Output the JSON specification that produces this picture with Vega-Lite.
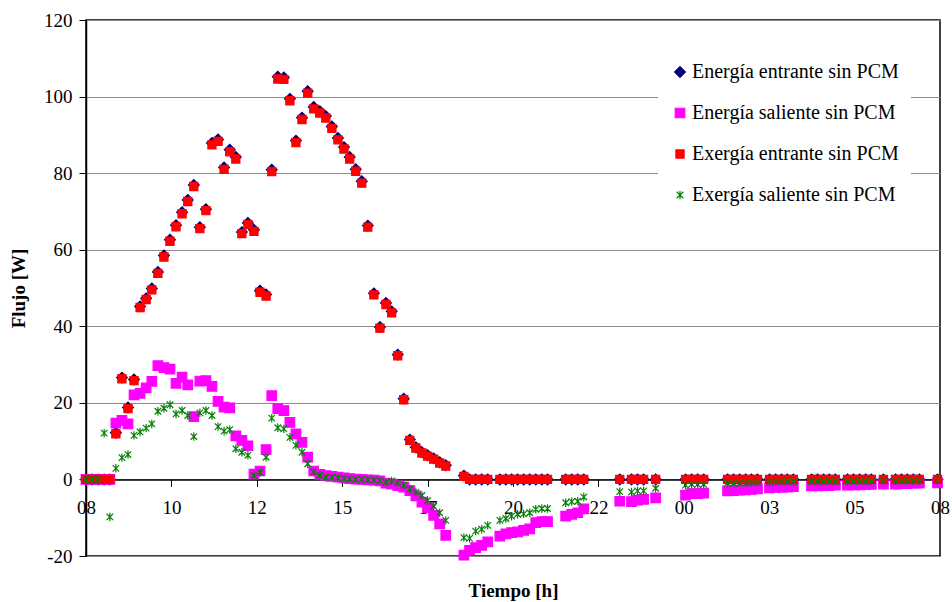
{
  "$schema": "https://vega.github.io/schema/vega-lite/v6.json",
  "width": 854,
  "height": 536,
  "autosize": "none",
  "padding": {"left": 86, "top": 20, "right": 12, "bottom": 46},
  "background": "white",
  "config": {
    "view": {"stroke": "black", "strokeWidth": 1.5},
    "font": "Liberation Serif",
    "axis": {
      "labelFont": "Liberation Serif",
      "titleFont": "Liberation Serif",
      "labelColor": "black",
      "titleColor": "black",
      "labelFontSize": 19,
      "titleFontSize": 19,
      "titleFontWeight": "bold",
      "tickColor": "black",
      "domainColor": "black"
    },
    "legend": {
      "orient": "none",
      "legendX": 572,
      "legendY": 30,
      "fillColor": "white",
      "padding": 12,
      "rowPadding": 21,
      "labelFont": "Liberation Serif",
      "labelFontSize": 20,
      "labelColor": "black",
      "labelLimit": 400,
      "labelOffset": 2,
      "symbolStrokeWidth": 1.2
    }
  },
  "data": {
    "values": [
      {"t": 8.00, "E_in": 0, "E_out": 0, "X_in": 0, "X_out": 0},
      {"t": 8.17, "E_in": 0, "E_out": 0, "X_in": 0, "X_out": 0},
      {"t": 8.34, "E_in": 0, "E_out": 0, "X_in": 0, "X_out": 0},
      {"t": 8.51, "E_in": 0, "E_out": 0, "X_in": 0, "X_out": 12.1},
      {"t": 8.67, "E_in": 0, "E_out": 0, "X_in": 0, "X_out": -9.8},
      {"t": 8.84, "E_in": 12.2, "E_out": 14.7, "X_in": 11.9, "X_out": 2.9},
      {"t": 9.01, "E_in": 26.6, "E_out": 15.4, "X_in": 26.3, "X_out": 5.7},
      {"t": 9.18, "E_in": 18.8, "E_out": 14.5, "X_in": 18.5, "X_out": 6.5},
      {"t": 9.35, "E_in": 26.1, "E_out": 22.1, "X_in": 25.8, "X_out": 11.5},
      {"t": 9.52, "E_in": 45.2, "E_out": 22.5, "X_in": 44.9, "X_out": 12.4},
      {"t": 9.69, "E_in": 47.3, "E_out": 23.9, "X_in": 47.0, "X_out": 13.4},
      {"t": 9.85, "E_in": 49.9, "E_out": 25.6, "X_in": 49.5, "X_out": 14.5},
      {"t": 10.02, "E_in": 54.2, "E_out": 29.7, "X_in": 53.8, "X_out": 17.8},
      {"t": 10.19, "E_in": 58.5, "E_out": 29.2, "X_in": 58.1, "X_out": 18.6},
      {"t": 10.36, "E_in": 62.6, "E_out": 28.8, "X_in": 62.2, "X_out": 19.5},
      {"t": 10.53, "E_in": 66.4, "E_out": 25.1, "X_in": 66.0, "X_out": 17.1},
      {"t": 10.70, "E_in": 69.8, "E_out": 26.7, "X_in": 69.4, "X_out": 18.0},
      {"t": 10.86, "E_in": 73.0, "E_out": 24.7, "X_in": 72.6, "X_out": 16.7},
      {"t": 11.03, "E_in": 76.9, "E_out": 16.4, "X_in": 76.5, "X_out": 11.2},
      {"t": 11.20, "E_in": 65.9, "E_out": 25.7, "X_in": 65.5, "X_out": 17.4},
      {"t": 11.37, "E_in": 70.6, "E_out": 25.8, "X_in": 70.2, "X_out": 18.0},
      {"t": 11.54, "E_in": 87.9, "E_out": 24.3, "X_in": 87.4, "X_out": 16.7},
      {"t": 11.71, "E_in": 88.8, "E_out": 20.4, "X_in": 88.3, "X_out": 13.8},
      {"t": 11.88, "E_in": 81.5, "E_out": 18.9, "X_in": 81.0, "X_out": 12.6},
      {"t": 12.04, "E_in": 86.1, "E_out": 18.7, "X_in": 85.6, "X_out": 13.0},
      {"t": 12.21, "E_in": 84.2, "E_out": 11.4, "X_in": 83.7, "X_out": 8.0},
      {"t": 12.38, "E_in": 64.6, "E_out": 10.2, "X_in": 64.2, "X_out": 7.1},
      {"t": 12.55, "E_in": 67.0, "E_out": 8.8, "X_in": 66.6, "X_out": 6.3},
      {"t": 12.72, "E_in": 65.2, "E_out": 1.4, "X_in": 64.8, "X_out": 1.0},
      {"t": 12.89, "E_in": 49.3, "E_out": 2.2, "X_in": 48.9, "X_out": 1.8},
      {"t": 13.06, "E_in": 48.3, "E_out": 7.8, "X_in": 47.9, "X_out": 5.8},
      {"t": 13.22, "E_in": 80.9, "E_out": 21.9, "X_in": 80.4, "X_out": 16.0},
      {"t": 13.39, "E_in": 105.2, "E_out": 18.5, "X_in": 104.6, "X_out": 13.5},
      {"t": 13.56, "E_in": 105.0, "E_out": 18.0, "X_in": 104.5, "X_out": 13.2},
      {"t": 13.73, "E_in": 99.4, "E_out": 14.9, "X_in": 98.9, "X_out": 11.0},
      {"t": 13.90, "E_in": 88.5, "E_out": 11.9, "X_in": 88.0, "X_out": 8.9},
      {"t": 14.07, "E_in": 94.5, "E_out": 9.7, "X_in": 94.0, "X_out": 7.1},
      {"t": 14.23, "E_in": 101.4, "E_out": 5.8, "X_in": 100.9, "X_out": 4.1},
      {"t": 14.40, "E_in": 97.3, "E_out": 2.2, "X_in": 96.8, "X_out": 1.9},
      {"t": 14.57, "E_in": 96.2, "E_out": 1.3, "X_in": 95.7, "X_out": 1.1},
      {"t": 14.74, "E_in": 94.9, "E_out": 1.0, "X_in": 94.4, "X_out": 0.5},
      {"t": 14.91, "E_in": 92.2, "E_out": 0.8, "X_in": 91.7, "X_out": 0.6},
      {"t": 15.08, "E_in": 89.2, "E_out": 0.6, "X_in": 88.7, "X_out": 0.4},
      {"t": 15.25, "E_in": 86.8, "E_out": 0.4, "X_in": 86.3, "X_out": 0.2},
      {"t": 15.41, "E_in": 84.2, "E_out": 0.2, "X_in": 83.7, "X_out": 0.1},
      {"t": 15.58, "E_in": 81.0, "E_out": 0.1, "X_in": 80.5, "X_out": 0.0},
      {"t": 15.75, "E_in": 77.9, "E_out": 0.0, "X_in": 77.4, "X_out": 0.0},
      {"t": 15.92, "E_in": 66.3, "E_out": -0.1, "X_in": 65.9, "X_out": -0.1},
      {"t": 16.09, "E_in": 48.6, "E_out": -0.2, "X_in": 48.2, "X_out": -0.2},
      {"t": 16.26, "E_in": 39.8, "E_out": -0.4, "X_in": 39.5, "X_out": -0.3},
      {"t": 16.43, "E_in": 46.1, "E_out": -1.0, "X_in": 45.7, "X_out": -0.8},
      {"t": 16.59, "E_in": 43.9, "E_out": -1.2, "X_in": 43.5, "X_out": -0.4},
      {"t": 16.76, "E_in": 32.6, "E_out": -1.6, "X_in": 32.3, "X_out": -0.9},
      {"t": 16.93, "E_in": 21.1, "E_out": -2.0, "X_in": 20.8, "X_out": -1.5},
      {"t": 17.10, "E_in": 10.4, "E_out": -2.9, "X_in": 10.2, "X_out": -2.5},
      {"t": 17.27, "E_in": 8.4, "E_out": -4.3, "X_in": 8.2, "X_out": -3.3},
      {"t": 17.44, "E_in": 7.1, "E_out": -5.9, "X_in": 6.9, "X_out": -4.2},
      {"t": 17.60, "E_in": 6.3, "E_out": -7.4, "X_in": 6.1, "X_out": -5.5},
      {"t": 17.77, "E_in": 5.5, "E_out": -9.4, "X_in": 5.3, "X_out": -7.0},
      {"t": 17.94, "E_in": 4.5, "E_out": -11.6, "X_in": 4.3, "X_out": -8.7},
      {"t": 18.11, "E_in": 3.7, "E_out": -14.6, "X_in": 3.5, "X_out": -10.7},
      {"t": 18.62, "E_in": 1.0, "E_out": -19.8, "X_in": 0.8, "X_out": -15.2},
      {"t": 18.78, "E_in": 0, "E_out": -18.5, "X_in": 0, "X_out": -15.4},
      {"t": 18.95, "E_in": 0, "E_out": -17.8, "X_in": 0, "X_out": -13.5},
      {"t": 19.12, "E_in": 0, "E_out": -17.2, "X_in": 0, "X_out": -13.0},
      {"t": 19.29, "E_in": 0, "E_out": -16.3, "X_in": 0, "X_out": -12.0},
      {"t": 19.63, "E_in": 0, "E_out": -14.8, "X_in": 0, "X_out": -10.7},
      {"t": 19.80, "E_in": 0, "E_out": -14.2, "X_in": 0, "X_out": -10.2},
      {"t": 19.96, "E_in": 0, "E_out": -13.9, "X_in": 0, "X_out": -9.6},
      {"t": 20.13, "E_in": 0, "E_out": -13.7, "X_in": 0, "X_out": -9.1},
      {"t": 20.30, "E_in": 0, "E_out": -13.3, "X_in": 0, "X_out": -9.0},
      {"t": 20.47, "E_in": 0, "E_out": -12.9, "X_in": 0, "X_out": -8.7},
      {"t": 20.64, "E_in": 0, "E_out": -11.3, "X_in": 0, "X_out": -7.8},
      {"t": 20.81, "E_in": 0, "E_out": -11.0, "X_in": 0, "X_out": -7.6},
      {"t": 20.97, "E_in": 0, "E_out": -11.0, "X_in": 0, "X_out": -7.6},
      {"t": 21.48, "E_in": 0, "E_out": -9.6, "X_in": 0, "X_out": -6.1},
      {"t": 21.65, "E_in": 0, "E_out": -9.1, "X_in": 0, "X_out": -5.8},
      {"t": 21.82, "E_in": 0, "E_out": -8.7, "X_in": 0, "X_out": -5.7},
      {"t": 21.99, "E_in": 0, "E_out": -7.7, "X_in": 0, "X_out": -4.6},
      {"t": 23.00, "E_in": 0, "E_out": -5.7, "X_in": 0, "X_out": -3.2},
      {"t": 23.33, "E_in": 0, "E_out": -5.8, "X_in": 0, "X_out": -3.3},
      {"t": 23.50, "E_in": 0, "E_out": -5.4, "X_in": 0, "X_out": -3.0},
      {"t": 23.67, "E_in": 0, "E_out": -5.2, "X_in": 0, "X_out": -3.0},
      {"t": 24.01, "E_in": 0, "E_out": -4.8, "X_in": 0, "X_out": -2.3},
      {"t": 24.85, "E_in": 0, "E_out": -4.1, "X_in": 0, "X_out": -1.5},
      {"t": 25.02, "E_in": 0, "E_out": -3.7, "X_in": 0, "X_out": -1.3},
      {"t": 25.19, "E_in": 0, "E_out": -3.7, "X_in": 0, "X_out": -1.3},
      {"t": 25.36, "E_in": 0, "E_out": -3.6, "X_in": 0, "X_out": -1.3},
      {"t": 26.03, "E_in": 0, "E_out": -3.0, "X_in": 0, "X_out": -1.0},
      {"t": 26.20, "E_in": 0, "E_out": -2.9, "X_in": 0, "X_out": -1.0},
      {"t": 26.37, "E_in": 0, "E_out": -2.8, "X_in": 0, "X_out": -0.9},
      {"t": 26.54, "E_in": 0, "E_out": -2.7, "X_in": 0, "X_out": -0.9},
      {"t": 26.70, "E_in": 0, "E_out": -2.6, "X_in": 0, "X_out": -0.8},
      {"t": 26.87, "E_in": 0, "E_out": -2.5, "X_in": 0, "X_out": -0.8},
      {"t": 27.21, "E_in": 0, "E_out": -2.2, "X_in": 0, "X_out": -0.8},
      {"t": 27.38, "E_in": 0, "E_out": -2.1, "X_in": 0, "X_out": -0.7},
      {"t": 27.55, "E_in": 0, "E_out": -2.0, "X_in": 0, "X_out": -0.7},
      {"t": 27.71, "E_in": 0, "E_out": -2.0, "X_in": 0, "X_out": -0.6},
      {"t": 27.88, "E_in": 0, "E_out": -1.9, "X_in": 0, "X_out": -0.6},
      {"t": 28.39, "E_in": 0, "E_out": -1.7, "X_in": 0, "X_out": -0.6},
      {"t": 28.56, "E_in": 0, "E_out": -1.7, "X_in": 0, "X_out": -0.6},
      {"t": 28.73, "E_in": 0, "E_out": -1.6, "X_in": 0, "X_out": -0.6},
      {"t": 28.89, "E_in": 0, "E_out": -1.6, "X_in": 0, "X_out": -0.6},
      {"t": 29.06, "E_in": 0, "E_out": -1.5, "X_in": 0, "X_out": -0.6},
      {"t": 29.40, "E_in": 0, "E_out": -1.5, "X_in": 0, "X_out": -0.5},
      {"t": 29.57, "E_in": 0, "E_out": -1.4, "X_in": 0, "X_out": -0.5},
      {"t": 29.74, "E_in": 0, "E_out": -1.4, "X_in": 0, "X_out": -0.5},
      {"t": 29.91, "E_in": 0, "E_out": -1.3, "X_in": 0, "X_out": -0.5},
      {"t": 30.07, "E_in": 0, "E_out": -1.3, "X_in": 0, "X_out": -0.5},
      {"t": 30.41, "E_in": 0, "E_out": -1.2, "X_in": 0, "X_out": -0.4},
      {"t": 30.75, "E_in": 0, "E_out": -1.2, "X_in": 0, "X_out": -0.4},
      {"t": 30.92, "E_in": 0, "E_out": -1.1, "X_in": 0, "X_out": -0.4},
      {"t": 31.08, "E_in": 0, "E_out": -1.1, "X_in": 0, "X_out": -0.4},
      {"t": 31.25, "E_in": 0, "E_out": -1.0, "X_in": 0, "X_out": -0.4},
      {"t": 31.42, "E_in": 0, "E_out": -1.0, "X_in": 0, "X_out": -0.4},
      {"t": 31.93, "E_in": 0, "E_out": -0.9, "X_in": 0, "X_out": -0.3}
    ]
  },
  "transform": [
    {"fold": ["E_in", "E_out", "X_in", "X_out"], "as": ["serie", "valor"]}
  ],
  "mark": {"type": "point", "filled": true, "strokeWidth": 1.2, "opacity": 1},
  "encoding": {
    "x": {
      "field": "t",
      "type": "quantitative",
      "scale": {"domain": [8, 32], "nice": false, "zero": false},
      "axis": {
        "values": [8, 10.4, 12.8, 15.2, 17.6, 20, 22.4, 24.8, 27.2, 29.6, 32],
        "labelExpr": "((floor(datum.value + 0.001) % 24) < 10 ? '0' : '') + (floor(datum.value + 0.001) % 24)",
        "labelFont": "Liberation Serif",
        "titleFont": "Liberation Serif",
        "offset": -76.57,
        "grid": false,
        "tickSize": 7,
        "tickWidth": 1,
        "labelPadding": 12,
        "labelFlush": false,
        "labelBound": false,
        "labelOverlap": false,
        "title": "Tiempo [h]",
        "titlePadding": 64,
        "domainWidth": 1.5
      }
    },
    "y": {
      "field": "valor",
      "type": "quantitative",
      "scale": {"domain": [-20, 120], "nice": false},
      "axis": {
        "values": [-20, 0, 20, 40, 60, 80, 100, 120],
        "labelExpr": "'' + datum.value",
        "labelFont": "Liberation Serif",
        "titleFont": "Liberation Serif",
        "title": "Flujo [W]",
        "grid": true,
        "gridColor": "#8c8c8c",
        "gridWidth": 1,
        "tickSize": 7,
        "labelPadding": 7,
        "titlePadding": 15,
        "domainWidth": 1.5
      }
    },
    "color": {
      "field": "serie",
      "type": "ordinal",
      "scale": {"domain": ["E_in", "E_out", "X_in", "X_out"], "range": ["#000080", "#ff00ff", "#ff0000", "#008000"]},
      "legend": {
        "title": null,
        "labelFont": "Liberation Serif",
        "labelLimit": 400,
        "labelExpr": "datum.label == 'E_in' ? 'Energía entrante sin PCM' : datum.label == 'E_out' ? 'Energía saliente sin PCM' : datum.label == 'X_in' ? 'Exergía entrante sin PCM' : 'Exergía saliente sin PCM'"
      }
    },
    "stroke": {
      "field": "serie",
      "type": "ordinal",
      "scale": {"domain": ["E_in", "E_out", "X_in", "X_out"], "range": ["#000080", "#ff00ff", "#ff0000", "#008000"]},
      "legend": {
        "title": null,
        "labelFont": "Liberation Serif",
        "labelLimit": 400,
        "labelExpr": "datum.label == 'E_in' ? 'Energía entrante sin PCM' : datum.label == 'E_out' ? 'Energía saliente sin PCM' : datum.label == 'X_in' ? 'Exergía entrante sin PCM' : 'Exergía saliente sin PCM'"
      }
    },
    "shape": {
      "field": "serie",
      "type": "ordinal",
      "scale": {"domain": ["E_in", "E_out", "X_in", "X_out"], "range": ["diamond", "square", "square", "M-1,-1L1,1M-1,1L1,-1M0,-1.3L0,1.3"]},
      "legend": {
        "title": null,
        "labelFont": "Liberation Serif",
        "labelLimit": 400,
        "labelExpr": "datum.label == 'E_in' ? 'Energía entrante sin PCM' : datum.label == 'E_out' ? 'Energía saliente sin PCM' : datum.label == 'X_in' ? 'Exergía entrante sin PCM' : 'Exergía saliente sin PCM'"
      }
    },
    "size": {
      "field": "serie",
      "type": "ordinal",
      "scale": {"domain": ["E_in", "E_out", "X_in", "X_out"], "range": [115, 42, 18, 56]},
      "legend": {
        "title": null,
        "labelFont": "Liberation Serif",
        "labelLimit": 400,
        "labelExpr": "datum.label == 'E_in' ? 'Energía entrante sin PCM' : datum.label == 'E_out' ? 'Energía saliente sin PCM' : datum.label == 'X_in' ? 'Exergía entrante sin PCM' : 'Exergía saliente sin PCM'"
      }
    },
    "order": {"field": "serie", "sort": "ascending"}
  }
}
